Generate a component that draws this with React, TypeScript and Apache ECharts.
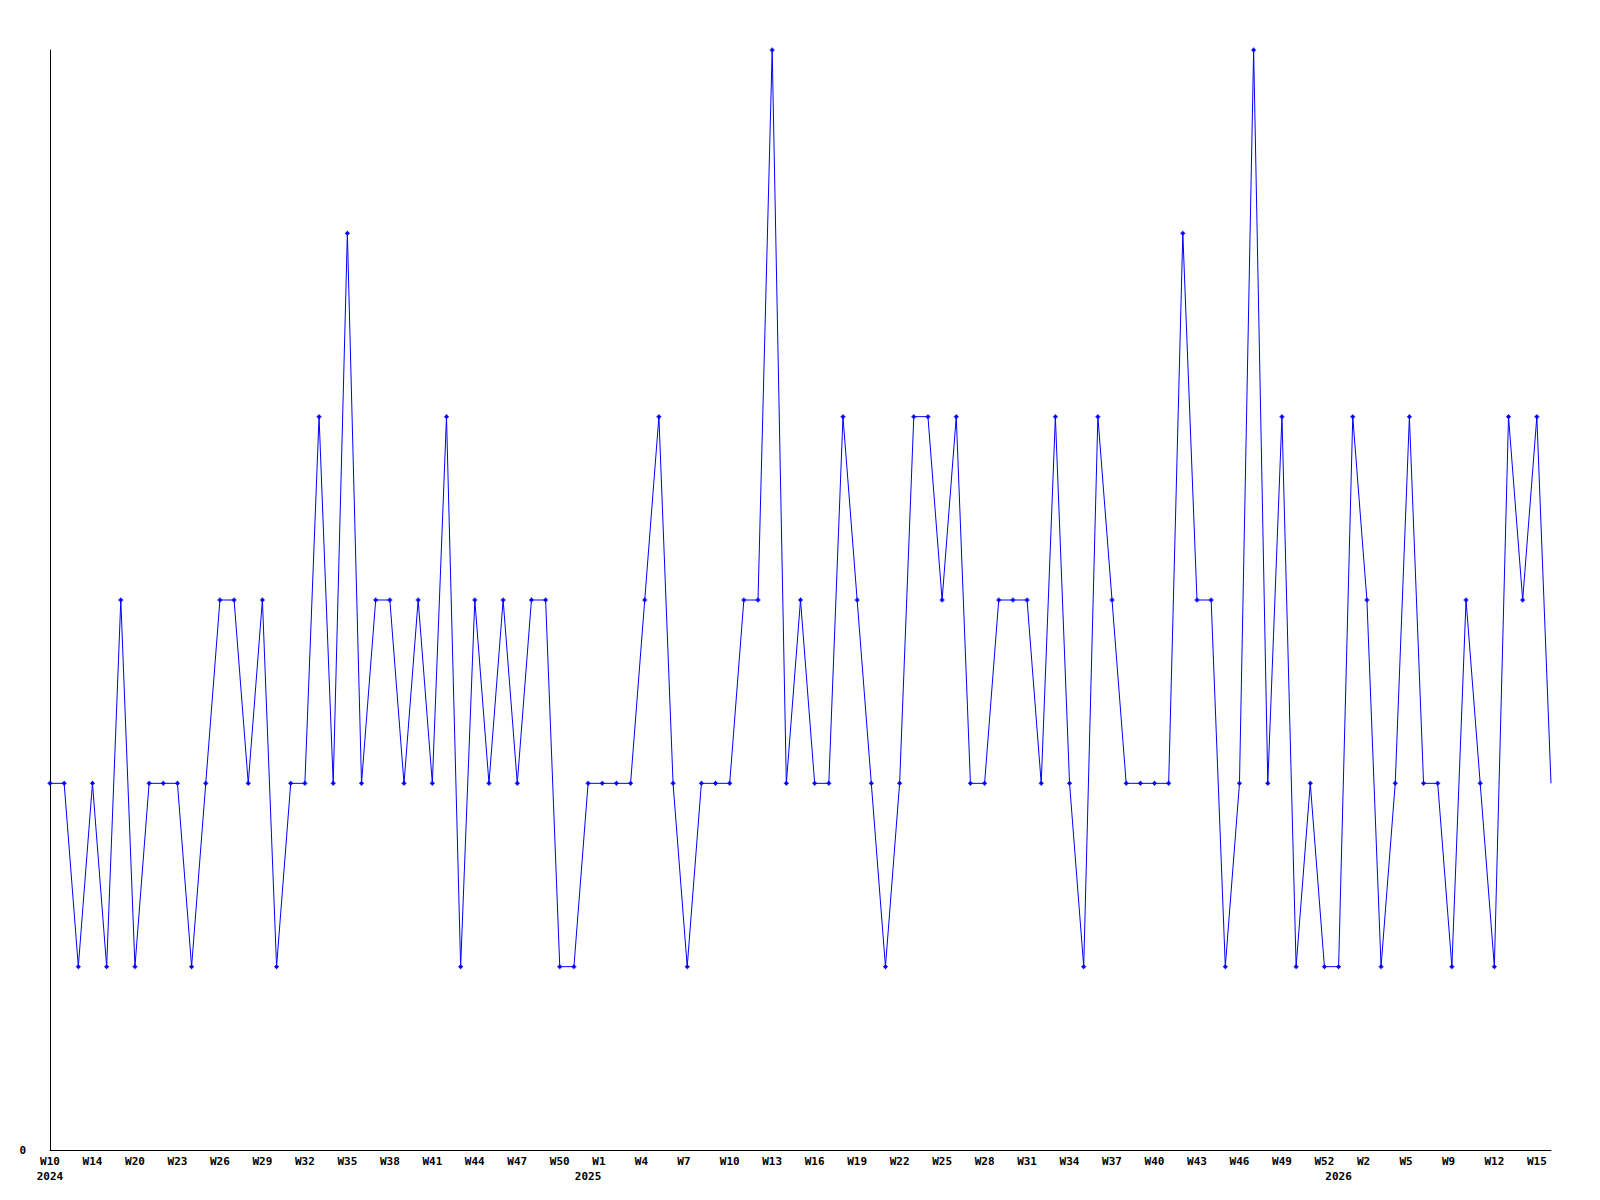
import React, { useEffect, useRef } from "react";
import * as echarts from "echarts";

const categories: string[] = [
  "2024-W10", "2024-W11", "2024-W13", "2024-W14", "2024-W16", "2024-W18", "2024-W20", "2024-W21",
  "2024-W22", "2024-W23", "2024-W24", "2024-W25", "2024-W26", "2024-W27", "2024-W28", "2024-W29",
  "2024-W30", "2024-W31", "2024-W32", "2024-W33", "2024-W34", "2024-W35", "2024-W36", "2024-W37",
  "2024-W38", "2024-W39", "2024-W40", "2024-W41", "2024-W42", "2024-W43", "2024-W44", "2024-W45",
  "2024-W46", "2024-W47", "2024-W48", "2024-W49", "2024-W50", "2024-W51", "2024-W52",
  "2025-W1", "2025-W2", "2025-W3", "2025-W4", "2025-W5", "2025-W6", "2025-W7", "2025-W8",
  "2025-W9", "2025-W10", "2025-W11", "2025-W12", "2025-W13", "2025-W14", "2025-W15", "2025-W16",
  "2025-W17", "2025-W18", "2025-W19", "2025-W20", "2025-W21", "2025-W22", "2025-W23", "2025-W24",
  "2025-W25", "2025-W26", "2025-W27", "2025-W28", "2025-W29", "2025-W30", "2025-W31", "2025-W32",
  "2025-W33", "2025-W34", "2025-W35", "2025-W36", "2025-W37", "2025-W38", "2025-W39", "2025-W40",
  "2025-W41", "2025-W42", "2025-W43", "2025-W44", "2025-W45", "2025-W46", "2025-W47", "2025-W48",
  "2025-W49", "2025-W50", "2025-W51", "2025-W52",
  "2026-W1", "2026-W1b", "2026-W2", "2026-W3", "2026-W4", "2026-W5", "2026-W6", "2026-W8",
  "2026-W9", "2026-W10", "2026-W11", "2026-W12", "2026-W13", "2026-W14", "2026-W15", "2026-W16",
];

const values: number[] = [
  2, 2, 1, 2, 1, 3, 1, 2, 2, 2, 1, 2, 3, 3, 2, 3, 1, 2, 2, 4,
  2, 5, 2, 3, 3, 2, 3, 2, 4, 1, 3, 2, 3, 2, 3, 3, 1, 1, 2, 2,
  2, 2, 3, 4, 2, 1, 2, 2, 2, 3, 3, 6, 2, 3, 2, 2, 4, 3, 2, 1,
  2, 4, 4, 3, 4, 2, 2, 3, 3, 3, 2, 4, 2, 1, 4, 3, 2, 2, 2, 2,
  5, 3, 3, 1, 2, 6, 2, 4, 1, 2, 1, 1, 4, 3, 1, 2, 4, 2, 2, 1,
  3, 2, 1, 4, 3, 4, 2,
];

const yearMarkIndex: number[] = [0, 38, 91];
const yearMarkLabel: string[] = ["2024", "2025", "2026"];

const FONT = "'DejaVu Sans Mono', monospace";

export default function App() {
  const ref = useRef<HTMLDivElement>(null);
  useEffect(() => {
    if (!ref.current) return;
    const chart = echarts.init(ref.current, null, { renderer: "svg" });
    const lastIdx = values.length - 1;
    const seriesData = values.map((v, i) =>
      i === lastIdx ? { value: v, symbol: "none" } : v
    );
    const labelStyle = {
      color: "#000",
      fontFamily: FONT,
      fontWeight: "bold" as const,
      fontSize: 11,
    };
    chart.setOption({
      animation: false,
      backgroundColor: "#fff",
      grid: {
        left: 50,
        right: 49,
        top: 50,
        bottom: 50,
        containLabel: false,
        outerBoundsMode: "none",
      },
      xAxis: [
        {
          type: "category",
          data: categories,
          boundaryGap: false,
          position: "bottom",
          axisLine: { show: true, lineStyle: { color: "#000", width: 1 } },
          axisTick: { show: false },
          splitLine: { show: false },
          axisLabel: {
            ...labelStyle,
            interval: 2,
            margin: 6,
            formatter: (v: string) => {
              const w = v.split("-")[1].replace("b", "");
              return w.length < 3 ? w + "\u00A0" : w;
            },
          },
        },
        {
          type: "category",
          data: categories,
          boundaryGap: false,
          position: "bottom",
          axisLine: { show: false },
          axisTick: { show: false },
          splitLine: { show: false },
          axisLabel: {
            ...labelStyle,
            margin: 21,
            interval: (index: number) => yearMarkIndex.indexOf(index) >= 0,
            formatter: (_v: string, index: number) => {
              const k = yearMarkIndex.indexOf(index);
              return k >= 0 ? yearMarkLabel[k] : "";
            },
          },
        },
      ],
      yAxis: {
        type: "value",
        min: 0,
        max: 6,
        interval: 6,
        axisLine: { show: true, lineStyle: { color: "#000", width: 1 } },
        axisTick: { show: false },
        splitLine: { show: false },
        axisLabel: {
          ...labelStyle,
          margin: 24,
          formatter: (v: number) => (v === 0 ? "0" : ""),
        },
      },
      series: [
        {
          type: "line",
          xAxisIndex: 0,
          data: seriesData,
          silent: true,
          symbol: "path://M2,0H3V1H4V2H5V3H4V4H3V5H2V4H1V3H0V2H1V1H2Z",
          symbolSize: 5,
          showSymbol: true,
          showAllSymbol: true,
          itemStyle: { color: "#0000ff" },
          lineStyle: { color: "#0000ff", width: 1 },
        },
      ],
    });
    return () => chart.dispose();
  }, []);
  return (
    <div
      ref={ref}
      style={{ position: "fixed", left: 0, top: 0, width: 1600, height: 1200, background: "#fff" }}
    />
  );
}
